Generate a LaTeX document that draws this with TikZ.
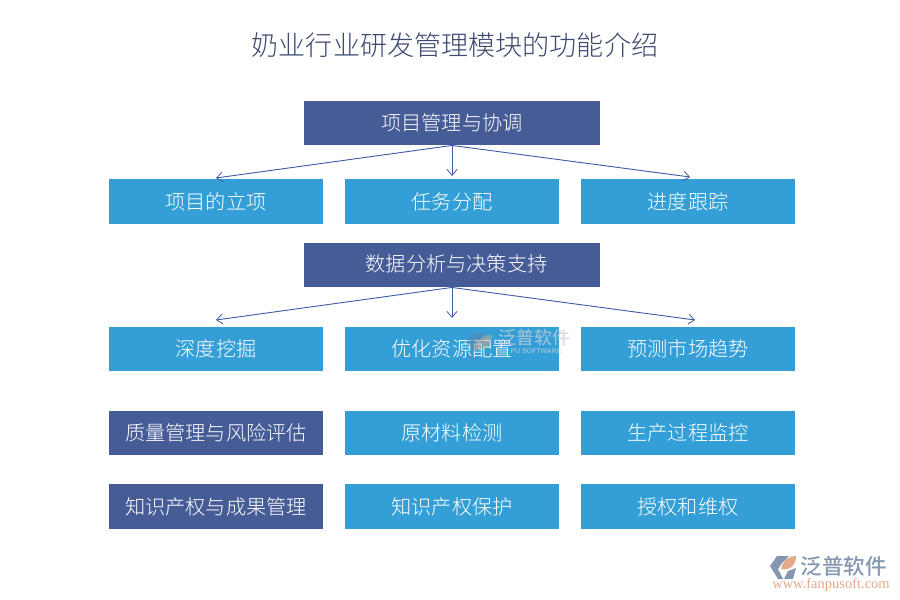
\documentclass[tikz,border=0pt]{standalone}
\usepackage{fontspec}
\setmainfont{Noto Sans CJK SC}[UprightFont=* Light,BoldFont=* Medium]
\newfontfamily\wmfont{Noto Sans CJK SC}[UprightFont=* Medium]
\newfontfamily\urlfont{Liberation Serif}
\newfontfamily\enfont{Liberation Sans}
\usetikzlibrary{arrows.meta,calc}
\definecolor{headblue}{HTML}{465C97}
\definecolor{itemblue}{HTML}{339FD6}
\definecolor{titleink}{HTML}{3C4A70}
\definecolor{arrowink}{HTML}{3F5AA3}
\definecolor{logogrey}{HTML}{8496B0}
\definecolor{logoorange}{HTML}{E5A988}
\definecolor{markgrey}{HTML}{6F7F9F}
\definecolor{marklight}{HTML}{C5CCDC}
\tikzset{
  box/.style={minimum height=44.5pt,inner sep=0pt,text=white,font=\fontsize{20.2}{24}\selectfont,anchor=center},
  head/.style={box,fill=headblue},
  item/.style={box,fill=itemblue,minimum width=214pt},
  wide/.style={minimum width=296pt},
  link/.style={draw=arrowink,line width=0.9pt,-{Straight Barb[length=6pt,width=10pt,line width=0.8pt]}},
}
\begin{document}
\begin{tikzpicture}[x=1pt,y=-1pt]
\useasboundingbox (0,0) rectangle (900,600);
\fill[white] (0,0) rectangle (900,600);
\node[text=titleink,font=\fontsize{27.1}{32}\selectfont,inner sep=0pt] (title) at (455,45) {奶业行业研发管理模块的功能介绍};

\node[head,wide] (h1) at (452,123) {项目管理与协调};
\node[item] (a1) at (216,201.5) {项目的立项};
\node[item] (a2) at (452,201.5) {任务分配};
\node[item] (a3) at (688,201.5) {进度跟踪};

\node[head,wide] (h2) at (452,265) {\hspace{9pt}\raisebox{3pt}{数据分析与决策支持}};
\node[item] (b1) at (216,349) {深度挖掘};
\node[item] (b2) at (452,349) {优化资源配置};
\node[item] (b3) at (688,349) {预测市场趋势};

\node[head,minimum width=214pt] (c1) at (216,433) {质量管理与风险评估};
\node[item] (c2) at (452,433) {原材料检测};
\node[item] (c3) at (688,433) {生产过程监控};

\node[head,minimum width=214pt] (d1) at (216,506.5) {知识产权与成果管理};
\node[item] (d2) at (452,506.5) {知识产权保护};
\node[item] (d3) at (688,506.5) {授权和维权};

\coordinate (e1) at (216,178);
\coordinate (e2) at (452,176);
\coordinate (e3) at (690,177);
\coordinate (f1) at (216,320);
\coordinate (f2) at (452,318);
\coordinate (f3) at (695,320);
\draw[link] (h1.south) -- (e1);
\draw[link] (h1.south) -- (e2);
\draw[link] (h1.south) -- (e3);
\draw[link] (h2.south) -- (f1);
\draw[link] (h2.south) -- (f2);
\draw[link] (h2.south) -- (f3);

% faint watermark
\begin{scope}[opacity=0.45]
  \fill[markgrey] (467,341) -- (474,333) -- (484,333) -- (478,347) -- (474,352) -- cycle;
  \fill[logoorange] (476,349) .. controls (478,338) and (484,334) .. (492,335) .. controls (492,344) and (486,351) .. (476,349) -- cycle;
\end{scope}
\begin{scope}[opacity=0.7]
  \node[text=marklight,font=\wmfont\fontsize{18}{20}\selectfont,inner sep=0pt] (wm) at (534,338) {泛普软件};
  \node[text=marklight,font=\enfont\bfseries\fontsize{7}{8}\selectfont,inner sep=0pt] (wm2) at (536,351.5) {PU SOFTWARE};
\end{scope}

% bottom-right logo
\fill[logogrey] (770,566) -- (777,556) -- (789,556) -- (782,563) -- (778,569) -- (783,579) -- (778,579) -- cycle;
\fill[logoorange] (781,569) .. controls (783,560) and (789,556) .. (796,556) .. controls (796,565) and (790,571) .. (781,569) -- cycle;
\fill[logogrey] (784,579) -- (788,571) -- (796,568) -- (793,579) -- cycle;
\node[text=logogrey,font=\wmfont\fontsize{21.5}{22}\selectfont,inner sep=0pt,text height=19pt,text depth=1pt] (lg) at (843.5,565) {泛普软件};
\node[text=logoorange,font=\urlfont\fontsize{14.5}{15}\selectfont,inner sep=0pt,text height=7pt,text depth=1pt] (lg2) at (831,585) {www.fanpusoft.com};
\end{tikzpicture}
\end{document}
